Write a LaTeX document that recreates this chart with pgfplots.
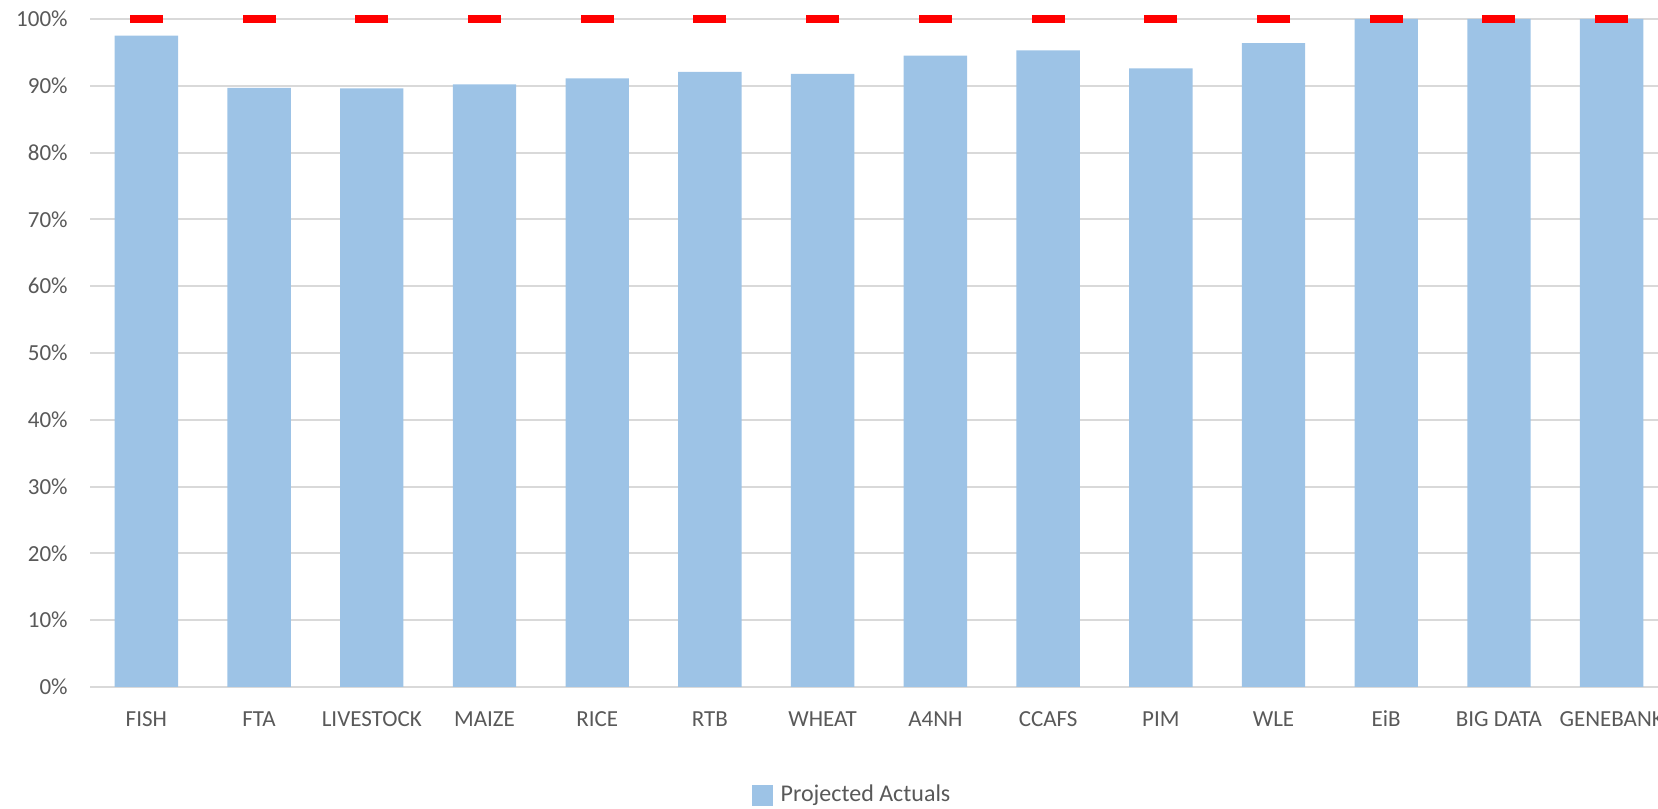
\documentclass[border=0pt]{standalone}
\usepackage{fontspec}
\setmainfont{Carlito}
\usepackage{pgfplots}
\pgfplotsset{compat=1.18}
\definecolor{barblue}{HTML}{9DC3E6}
\definecolor{txt}{HTML}{595959}
\definecolor{gridc}{HTML}{D9D9D9}
\begin{document}
\begin{tikzpicture}
\useasboundingbox (0,0) rectangle (829pt,404pt);
\begin{axis}[
  at={(45pt,60.5pt)}, anchor=south west,
  scale only axis, width=789pt, height=334pt,
  xmin=-0.5, xmax=13.5, ymin=0, ymax=100,
  clip=false,
  axis line style={draw=none},
  tick style={draw=none},
  ymajorgrids, major grid style={gridc, line width=1pt},
  ytick={0,10,...,100},
  yticklabel={\pgfmathprintnumber{\tick}\%},
  /pgf/number format/assume math mode=true,
  yticklabel style={font=\fontsize{11.5}{13}\selectfont, text=txt, inner sep=0pt, xshift=-11pt},
  xtick={0,...,13},
  xticklabels={FISH,FTA,LIVESTOCK,MAIZE,RICE,RTB,WHEAT,A4NH,CCAFS,PIM,WLE,EiB,BIG DATA,GENEBANK},
  xticklabel style={font=\fontsize{11.5}{13}\selectfont, text=txt, inner sep=0pt, anchor=center, yshift=-16pt},
  legend style={draw=none, fill=none, at={(0.4848,-0.1617)}, anchor=center,
    font=\fontsize{12}{14}\selectfont, text=txt, inner sep=0pt,
    nodes={inner xsep=4pt}},
  legend image code/.code={\fill[barblue] (0pt,-5.25pt) rectangle (10.5pt,5.25pt);},
]
\addplot[ybar, bar width=31.7pt, fill=barblue, draw=none] coordinates {
(0,97.5) (1,89.7) (2,89.6) (3,90.2) (4,91.1) (5,92.1) (6,91.8)
(7,94.5) (8,95.3) (9,92.6) (10,96.4) (11,100) (12,100) (13,100)};
\addlegendentry{Projected Actuals}
\addplot[only marks, mark=-, mark size=8.25pt, mark options={draw=red, line width=4pt}, forget plot] coordinates {
(0,100) (1,100) (2,100) (3,100) (4,100) (5,100) (6,100)
(7,100) (8,100) (9,100) (10,100) (11,100) (12,100) (13,100)};
\end{axis}
\end{tikzpicture}
\end{document}
